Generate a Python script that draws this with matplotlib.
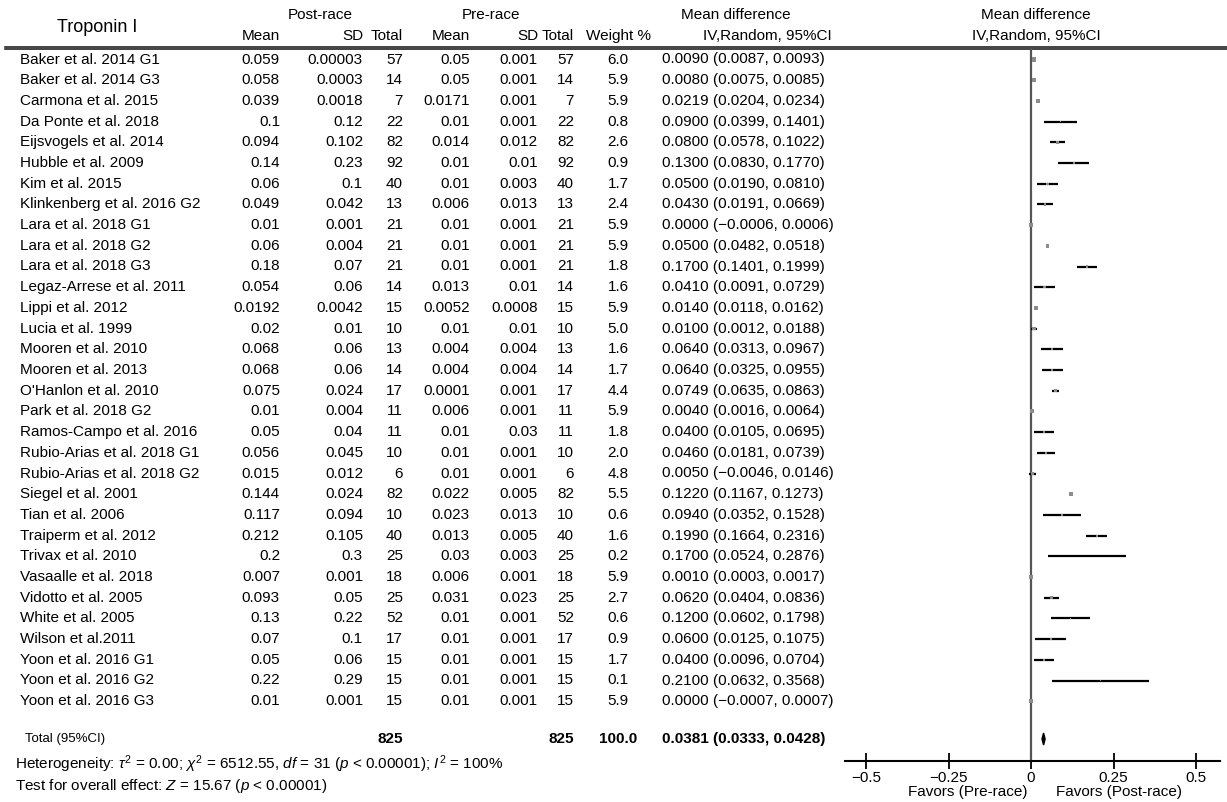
import matplotlib
matplotlib.use("Agg")
import matplotlib.pyplot as plt

plt.rcParams['font.family'] = ['Liberation Sans', 'DejaVu Sans']
plt.rcParams['mathtext.fontset'] = 'custom'
plt.rcParams['mathtext.rm'] = 'Liberation Sans'
plt.rcParams['mathtext.it'] = 'Liberation Sans:italic'

#_____________________________________________________
# DATA

studies = ["Baker et al. 2014 G1", "Baker et al. 2014 G3", "Carmona et al. 2015",
           "Da Ponte et al. 2018", "Eijsvogels et al. 2014", "Hubble et al. 2009",
           "Kim et al. 2015", "Klinkenberg et al. 2016 G2", "Lara et al. 2018 G1",
           "Lara et al. 2018 G2", "Lara et al. 2018 G3", "Legaz-Arrese et al. 2011",
           "Lippi et al. 2012", "Lucia et al. 1999", "Mooren et al. 2010",
           "Mooren et al. 2013", "O'Hanlon et al. 2010", "Park et al. 2018 G2",
           "Ramos-Campo et al. 2016", "Rubio-Arias et al. 2018 G1",
           "Rubio-Arias et al. 2018 G2", "Siegel et al. 2001", "Tian et al. 2006",
           "Traiperm et al. 2012", "Trivax et al. 2010", "Vasaalle et al. 2018",
           "Vidotto et al. 2005", "White et al. 2005", "Wilson et al.2011",
           "Yoon et al. 2016 G1", "Yoon et al. 2016 G2", "Yoon et al. 2016 G3"]

post_mean = ["0.059", "0.058", "0.039", "0.1", "0.094", "0.14", "0.06", "0.049", "0.01",
             "0.06", "0.18", "0.054", "0.0192", "0.02", "0.068", "0.068", "0.075", "0.01",
             "0.05", "0.056", "0.015", "0.144", "0.117", "0.212", "0.2", "0.007", "0.093",
             "0.13", "0.07", "0.05", "0.22", "0.01"]
post_sd = ["0.00003", "0.0003", "0.0018", "0.12", "0.102", "0.23", "0.1", "0.042", "0.001",
           "0.004", "0.07", "0.06", "0.0042", "0.01", "0.06", "0.06", "0.024", "0.004",
           "0.04", "0.045", "0.012", "0.024", "0.094", "0.105", "0.3", "0.001", "0.05",
           "0.22", "0.1", "0.06", "0.29", "0.001"]
post_n = [57, 14, 7, 22, 82, 92, 40, 13, 21, 21, 21, 14, 15, 10, 13, 14, 17, 11, 11, 10,
          6, 82, 10, 40, 25, 18, 25, 52, 17, 15, 15, 15]
pre_mean = ["0.05", "0.05", "0.0171", "0.01", "0.014", "0.01", "0.01", "0.006", "0.01",
            "0.01", "0.01", "0.013", "0.0052", "0.01", "0.004", "0.004", "0.0001", "0.006",
            "0.01", "0.01", "0.01", "0.022", "0.023", "0.013", "0.03", "0.006", "0.031",
            "0.01", "0.01", "0.01", "0.01", "0.01"]
pre_sd = ["0.001", "0.001", "0.001", "0.001", "0.012", "0.01", "0.003", "0.013", "0.001",
          "0.001", "0.001", "0.01", "0.0008", "0.01", "0.004", "0.004", "0.001", "0.001",
          "0.03", "0.001", "0.001", "0.005", "0.013", "0.005", "0.003", "0.001", "0.023",
          "0.001", "0.001", "0.001", "0.001", "0.001"]
pre_n = post_n
weight = [6.0, 5.9, 5.9, 0.8, 2.6, 0.9, 1.7, 2.4, 5.9, 5.9, 1.8, 1.6, 5.9, 5.0, 1.6, 1.7,
          4.4, 5.9, 1.8, 2.0, 4.8, 5.5, 0.6, 1.6, 0.2, 5.9, 2.7, 0.6, 0.9, 1.7, 0.1, 5.9]
md = [0.0090, 0.0080, 0.0219, 0.0900, 0.0800, 0.1300, 0.0500, 0.0430, 0.0000, 0.0500,
      0.1700, 0.0410, 0.0140, 0.0100, 0.0640, 0.0640, 0.0749, 0.0040, 0.0400, 0.0460,
      0.0050, 0.1220, 0.0940, 0.1990, 0.1700, 0.0010, 0.0620, 0.1200, 0.0600, 0.0400,
      0.2100, 0.0000]
ci_lo = [0.0087, 0.0075, 0.0204, 0.0399, 0.0578, 0.0830, 0.0190, 0.0191, -0.0006, 0.0482,
         0.1401, 0.0091, 0.0118, 0.0012, 0.0313, 0.0325, 0.0635, 0.0016, 0.0105, 0.0181,
         -0.0046, 0.1167, 0.0352, 0.1664, 0.0524, 0.0003, 0.0404, 0.0602, 0.0125, 0.0096,
         0.0632, -0.0007]
ci_hi = [0.0093, 0.0085, 0.0234, 0.1401, 0.1022, 0.1770, 0.0810, 0.0669, 0.0006, 0.0518,
         0.1999, 0.0729, 0.0162, 0.0188, 0.0967, 0.0955, 0.0863, 0.0064, 0.0695, 0.0739,
         0.0146, 0.1273, 0.1528, 0.2316, 0.2876, 0.0017, 0.0836, 0.1798, 0.1075, 0.0704,
         0.3568, 0.0007]

total_post_n = 825
total_pre_n = 825
total_weight = 100.0
total_md, total_lo, total_hi = 0.0381, 0.0333, 0.0428

ticks = [-0.5, -0.25, 0, 0.25, 0.5]
tick_labels = ["\u22120.5", "\u22120.25", "0", "0.25", "0.5"]


def fmt(v):
    return f"{v:.4f}".replace("-", "\u2212")


#_____________________________________________________
# LAYOUT (pixel coordinates of the 1227x802 canvas)

W, H = 1227, 802
fig = plt.figure(figsize=(W / 100, H / 100), dpi=100)
tax = fig.add_axes([0, 0, 1, 1])
tax.set_xlim(0, W)
tax.set_ylim(H, 0)
tax.axis('off')

row0, pitch = 59.5, 20.7
rows = [row0 + i * pitch for i in range(len(studies))]
y_total = 739
fs = 11

# column right edges
x_study = 20
x_pm, x_psd, x_pn = 280, 363, 403
x_qm, x_qsd, x_qn = 470, 538, 574
x_w = 618
x_ci = 662

# header
tax.text(97, 27, "Troponin I", fontsize=13, ha='center', va='center')
tax.text(320, 15, "Post-race", fontsize=fs, ha='center', va='center')
tax.text(491, 15, "Pre-race", fontsize=fs, ha='center', va='center')
for x, lab in [(x_pm, "Mean"), (x_psd, "SD"), (x_pn, "Total"),
               (x_qm, "Mean"), (x_qsd, "SD"), (x_qn, "Total")]:
    tax.text(x, 36, lab, fontsize=fs, ha='right', va='center')
tax.text(x_w, 36, "Weight %", fontsize=fs, ha='center', va='center')
tax.text(736, 15, "Mean difference", fontsize=fs, ha='center', va='center')
tax.text(832, 36, "IV,Random, 95%CI", fontsize=fs, ha='right', va='center')
tax.text(1036, 15, "Mean difference", fontsize=fs, ha='center', va='center')
tax.text(1036, 36, "IV,Random, 95%CI", fontsize=fs, ha='center', va='center')
tax.plot([5, W], [47, 47], color='#222222', lw=1.2)
tax.plot([5, W], [49, 49], color='#222222', lw=1.2)

# study rows
for i, y in enumerate(rows):
    tax.text(x_study, y, studies[i], fontsize=fs, ha='left', va='center')
    tax.text(x_pm, y, post_mean[i], fontsize=fs, ha='right', va='center')
    tax.text(x_psd, y, post_sd[i], fontsize=fs, ha='right', va='center')
    tax.text(x_pn, y, str(post_n[i]), fontsize=fs, ha='right', va='center')
    tax.text(x_qm, y, pre_mean[i], fontsize=fs, ha='right', va='center')
    tax.text(x_qsd, y, pre_sd[i], fontsize=fs, ha='right', va='center')
    tax.text(x_qn, y, str(pre_n[i]), fontsize=fs, ha='right', va='center')
    tax.text(x_w, y, f"{weight[i]:.1f}", fontsize=fs, ha='center', va='center')
    tax.text(x_ci, y, f"{fmt(md[i])} ({fmt(ci_lo[i])}, {fmt(ci_hi[i])})",
             fontsize=fs, ha='left', va='center')

# total row
tax.text(25, y_total, "Total (95%CI)", fontsize=9.5, ha='left', va='center')
tax.text(x_pn, y_total, str(total_post_n), fontsize=fs, ha='right', va='center', weight='bold')
tax.text(x_qn, y_total, str(total_pre_n), fontsize=fs, ha='right', va='center', weight='bold')
tax.text(x_w, y_total, f"{total_weight:.1f}", fontsize=fs, ha='center', va='center', weight='bold')
tax.text(x_ci, y_total, f"{fmt(total_md)} ({fmt(total_lo)}, {fmt(total_hi)})",
         fontsize=fs, ha='left', va='center', weight='bold')

tax.text(15, 764, r"Heterogeneity: $\tau^2$ = 0.00; $\chi^2$ = 6512.55, $df$ = 31 ($p$ < 0.00001); $I^2$ = 100%",
         fontsize=fs, ha='left', va='center')
tax.text(15, 786, r"Test for overall effect: $Z$ = 15.67 ($p$ < 0.00001)",
         fontsize=fs, ha='left', va='center')

#_____________________________________________________
# FOREST PANEL

x0_px, scale = 1031, 330.0
left_px, right_px, top_px, bot_px = 845, 1220, 48, 761
fax = fig.add_axes([left_px / W, 1 - bot_px / H, (right_px - left_px) / W, (bot_px - top_px) / H])
fax.set_xlim((left_px - x0_px) / scale, (right_px - x0_px) / scale)
fax.set_ylim(bot_px, top_px)
fax.patch.set_alpha(0)
for s in ['top', 'left', 'right']:
    fax.spines[s].set_visible(False)
fax.spines['bottom'].set_linewidth(1.5)
fax.set_yticks([])
fax.set_xticks(ticks)
fax.set_xticklabels(tick_labels)
fax.tick_params(axis='x', direction='inout', length=12, width=1.3, labelsize=fs, pad=1)

fax.axvline(0, color='#555555', lw=1.6)
fax.hlines(rows, ci_lo, ci_hi, color='black', lw=1.6)
fax.scatter(md, rows, marker='s', s=[1.4 * w for w in weight], color='#8c8c8c',
            edgecolors='none', zorder=3)
fax.fill([total_lo, total_md, total_hi, total_md],
         [y_total, y_total - 6, y_total, y_total + 6], color='black', zorder=3)

fax.text(-0.01, 792, "Favors (Pre-race)", fontsize=fs, ha='right', va='center', clip_on=False)
fax.text(0.075, 792, "Favors (Post-race)", fontsize=fs, ha='left', va='center', clip_on=False)

fig.savefig("out.png", dpi=100)
